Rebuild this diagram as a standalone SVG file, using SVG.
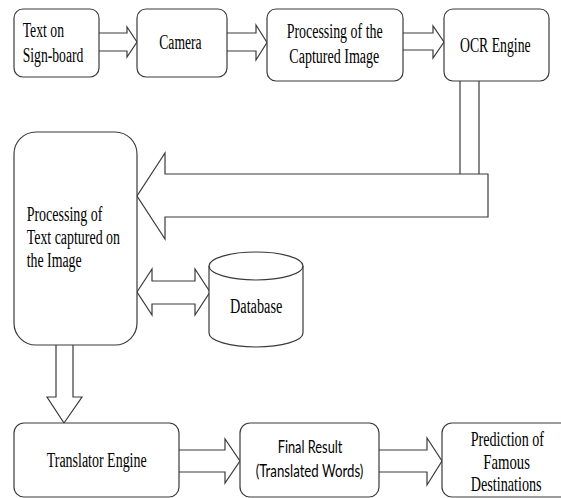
<svg xmlns="http://www.w3.org/2000/svg" width="561" height="498" viewBox="0 0 561 498">
<style>
.box{fill:#fff;stroke:#3a3a3a;stroke-width:1.2}
.arr{fill:#fff;stroke:#3a3a3a;stroke-width:1.2;stroke-linejoin:miter}
.ln{fill:none;stroke:#3a3a3a;stroke-width:1.2}
.t{font-family:"Liberation Serif","Times New Roman","DejaVu Serif",serif;font-size:20px;fill:#000}
.s{font-family:Lato,"Liberation Sans",sans-serif;font-size:18px;fill:#000}
</style>
<rect width="561" height="498" fill="#fff"/>
<g id="connectors">
<path class="arr" d="M99,33 H127 V27 L137,42 L127,57 V51 H99"/>
<path class="arr" d="M227,33 H256 V25 L267,42.5 L256,60 V51 H227"/>
<path class="arr" d="M403,33 H433 V26 L444,42 L433,58 V50 H403"/>
<path class="arr" d="M488,174 V217 H165 V239 L137,196 L165,153 V174 Z"/>
<line class="ln" x1="460" y1="81" x2="460" y2="174"/>
<line class="ln" x1="479" y1="81" x2="479" y2="174"/>
<path class="arr" d="M137,292 L152,269 V281 H195 V269 L210,292 L195,315 V304 H152 V315 Z"/>
<path class="arr" d="M56,345 V397 H47 L64,423 L82,397 H73 V345"/>
<path class="arr" d="M179,450 H225 V439 L240,461 L225,483 V472 H179"/>
<path class="arr" d="M379,450 H427 V438 L442,461 L427,485 V472 H379"/>
</g>
<g id="node-sign">
<rect class="box" x="14" y="9" width="85" height="68" rx="9"/>
<text class="t" x="22.7" y="37" textLength="41.3" lengthAdjust="spacingAndGlyphs">Text on</text>
<text class="t" x="22.7" y="62" textLength="60.7" lengthAdjust="spacingAndGlyphs">Sign-board</text>
</g>
<g id="node-camera">
<rect class="box" x="137" y="9" width="90" height="68" rx="9"/>
<text class="t" x="159.3" y="49" textLength="42.3" lengthAdjust="spacingAndGlyphs">Camera</text>
</g>
<g id="node-processing-image">
<rect class="box" x="267" y="9" width="136" height="72" rx="9"/>
<text class="t" x="286.7" y="38" textLength="96" lengthAdjust="spacingAndGlyphs">Processing of the</text>
<text class="t" x="289.3" y="63" textLength="90" lengthAdjust="spacingAndGlyphs">Captured Image</text>
</g>
<g id="node-ocr">
<rect class="box" x="444" y="9" width="105" height="72" rx="9"/>
<text class="t" transform="matrix(0.688,0,0,1,460,52)">OCR Engine</text>
</g>
<g id="node-processing-text">
<rect class="box" x="14" y="132" width="123" height="213" rx="22"/>
<text class="t" x="26.7" y="221" textLength="75.7" lengthAdjust="spacingAndGlyphs">Processing of</text>
<text class="t" x="26.7" y="244" textLength="93.3" lengthAdjust="spacingAndGlyphs">Text captured on</text>
<text class="t" x="26.7" y="267" textLength="55" lengthAdjust="spacingAndGlyphs">the Image</text>
</g>
<g id="node-database">
<path class="box" d="M209,266 V333 A47,14 0 0 0 303,333 V266 A47,14 0 0 0 209,266 Z"/>
<path class="ln" d="M209,266 A47,14 0 0 0 303,266"/>
<text class="t" x="230" y="313" textLength="52.3" lengthAdjust="spacingAndGlyphs">Database</text>
</g>
<g id="node-translator">
<rect class="box" x="14" y="423" width="165" height="74" rx="10"/>
<text class="t" x="46.7" y="467" textLength="100" lengthAdjust="spacingAndGlyphs">Translator Engine</text>
</g>
<g id="node-final">
<rect class="box" x="240" y="423" width="139" height="74" rx="10"/>
<text class="s" x="277.7" y="453" textLength="64.7" lengthAdjust="spacingAndGlyphs">Final Result</text>
<text class="s" x="255.7" y="477" textLength="107.7" lengthAdjust="spacingAndGlyphs">(Translated Words)</text>
</g>
<g id="node-prediction">
<path class="box" d="M561,423 H452 A10,10 0 0 0 442,433 V487 A10,10 0 0 0 452,497 H561"/>
<text class="t" transform="matrix(0.706,0,0,1,470.7,446)">Prediction of</text>
<text class="t" transform="matrix(0.737,0,0,1,483.3,469)">Famous</text>
<text class="t" transform="matrix(0.71,0,0,1,470.7,491)">Destinations</text>
</g>
</svg>
